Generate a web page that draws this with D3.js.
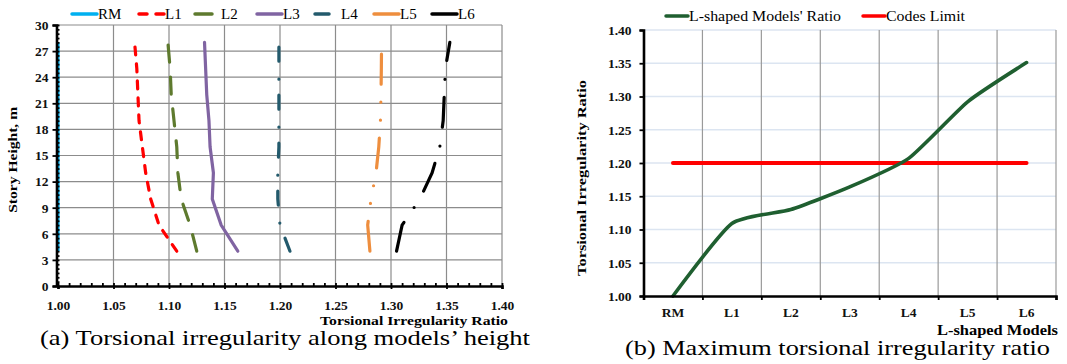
<!DOCTYPE html>
<html>
<head>
<meta charset="utf-8">
<script src="https://cdn.jsdelivr.net/npm/d3@7"></script>
<style>
  body { margin: 0; background: #fff; }
  svg { display: block; font-family: "Liberation Serif", "Times New Roman", serif; }
  .tick text { font-family: "Liberation Serif", "Times New Roman", serif; font-weight: bold; font-size: 13.5px; fill: #111; }
</style>
</head>
<body>
<svg id="chart" width="1067" height="364"></svg>
<script>
// story heights (m) for the 9 floors
const heights = [4, 7, 10, 13, 16, 19, 22, 25, 28];

// torsional irregularity ratio per floor, bottom to top
const rmRatio = [1.0, 1.0, 1.0, 1.0, 1.0, 1.0, 1.0, 1.0, 1.0];
const l1Ratio = [1.107, 1.091, 1.0835, 1.079, 1.076, 1.073, 1.072, 1.071, 1.069];
const l2Ratio = [1.125, 1.119, 1.111, 1.108, 1.107, 1.1045, 1.102, 1.101, 1.099];
const l3Ratio = [1.162, 1.147, 1.139, 1.140, 1.137, 1.136, 1.134, 1.133, 1.132];
const l4Ratio = [1.209, 1.200, 1.198, 1.198, 1.199, 1.199, 1.199, 1.199, 1.199];
const l5Ratio = [1.281, 1.279, 1.282, 1.2865, 1.289, 1.2905, 1.291, 1.2913, 1.2915];
const l6Ratio = [1.305, 1.310, 1.326, 1.337, 1.344, 1.347, 1.348, 1.349, 1.353];

const seriesNames = ['RM', 'L1', 'L2', 'L3', 'L4', 'L5', 'L6'];

// panel (b)
const models = ['RM', 'L1', 'L2', 'L3', 'L4', 'L5', 'L6'];
const maxRatio = [1.00, 1.109, 1.130, 1.164, 1.207, 1.292, 1.351];
const codesLimit = [1.20, 1.20, 1.20, 1.20, 1.20, 1.20, 1.20];

const xTicksA = [1.00, 1.05, 1.10, 1.15, 1.20, 1.25, 1.30, 1.35, 1.40];
const yTicksA = [0, 3, 6, 9, 12, 15, 18, 21, 24, 27, 30];
const yTicksB = [1.00, 1.05, 1.10, 1.15, 1.20, 1.25, 1.30, 1.35, 1.40];

const svg = d3.select('#chart');

// stretched text, the source figure is a bit wider than the font
function label(g, txt, opts) {
  const t = g.append('text')
    .attr('x', opts.x).attr('y', opts.y)
    .attr('font-size', opts.size)
    .attr('font-weight', opts.bold ? 'bold' : null)
    .attr('text-anchor', opts.anchor || 'start')
    .text(txt);
  if (opts.rotate) t.attr('transform', `rotate(-90,${opts.x},${opts.y})`);
  if (opts.len) t.attr('textLength', opts.len).attr('lengthAdjust', 'spacingAndGlyphs');
  return t;
}

// ---------- panel (a) ----------
const styles = [
  { color: '#00B0F0', dash: null, cap: 'butt' },
  { color: '#FF0000', dash: '8,9', cap: 'round' },
  { color: '#5E7A2E', dash: '17,15', cap: 'round' },
  { color: '#8064A2', dash: null, cap: 'round' },
  { color: '#235A6C', dash: '14,16,0,18', cap: 'round' },
  { color: '#EE8E3E', dash: '30,18,0,18,0,18', cap: 'round' },
  { color: '#000000', dash: '30,18,0,19', cap: 'round' },
];
const ratios = [rmRatio, l1Ratio, l2Ratio, l3Ratio, l4Ratio, l5Ratio, l6Ratio];

const xa = d3.scaleLinear().domain([1.0, 1.4]).range([58, 502]);
const ya = d3.scaleLinear().domain([0, 30]).range([286, 25]);

const ga = svg.append('g');

// grid
ga.append('g').selectAll('line').data(yTicksA.slice(1)).enter().append('line')
  .attr('x1', xa(1.0)).attr('x2', xa(1.4))
  .attr('y1', d => ya(d)).attr('y2', d => ya(d))
  .attr('stroke', '#8c8c8c').attr('stroke-width', 1.2);
ga.append('g').selectAll('line').data(xTicksA.slice(1)).enter().append('line')
  .attr('x1', d => xa(d)).attr('x2', d => xa(d))
  .attr('y1', ya(0)).attr('y2', ya(30))
  .attr('stroke', '#8c8c8c').attr('stroke-width', 1.2);

// series
const lineA = d3.line().x(d => xa(d[0])).y(d => ya(d[1]));
ratios.forEach((r, i) => {
  const pts = heights.map((h, j) => [r[j], h]);
  ga.append('path')
    .datum(pts)
    .attr('d', lineA)
    .attr('fill', 'none')
    .attr('stroke', styles[i].color)
    .attr('stroke-width', 3.2)
    .attr('stroke-linecap', styles[i].cap)
    .attr('stroke-dasharray', styles[i].dash);
});

// axes
ga.append('g')
  .attr('transform', `translate(${xa(1.0) - 1.5},0)`)
  .call(d3.axisLeft(ya).tickValues(yTicksA).tickSize(4).tickPadding(4));
ga.append('g')
  .attr('transform', `translate(${xa(1.0) - 1.5},0)`)
  .call(d3.axisRight(ya).tickValues(d3.range(0, 30.01, 0.5)).tickSize(3).tickFormat(''))
  .call(g => g.select('.domain').remove());
ga.append('g')
  .attr('transform', `translate(0,${ya(0)})`)
  .call(d3.axisBottom(xa).tickValues(xTicksA).tickFormat(d3.format('.2f')).tickSize(3).tickPadding(11));
ga.append('g')
  .attr('transform', `translate(0,${ya(0)})`)
  .call(d3.axisTop(xa).tickValues(d3.range(1.0, 1.4001, 0.01)).tickSize(3).tickFormat(''))
  .call(g => g.select('.domain').remove());
ga.selectAll('.domain').attr('stroke', '#000').attr('stroke-width', 2.6);
ga.selectAll('.tick line').attr('stroke', '#000').attr('stroke-width', 1.8);

label(ga, 'Story Height, m', { x: 17, y: ya(14.5), size: 13.5, bold: true, anchor: 'middle', rotate: true, len: 106 });
label(ga, 'Torsional Irregularity Ratio', { x: 508, y: 325, size: 12.5, bold: true, anchor: 'end', len: 188 });

// legend
const legStart = [70, 137, 193, 255, 313, 372, 430];
seriesNames.forEach((n, i) => {
  const lg = ga.append('g').attr('transform', `translate(${legStart[i]},14)`);
  lg.append('line').attr('x1', 2).attr('x2', 27).attr('y1', 0).attr('y2', 0)
    .attr('stroke', styles[i].color).attr('stroke-width', 3.5)
    .attr('stroke-linecap', 'round')
    .attr('stroke-dasharray', styles[i].dash);
  lg.append('text').attr('x', 28).attr('y', 5).attr('font-size', 15).text(n);
});

label(svg, '(a) Torsional irregularity along models\u2019 height', { x: 40, y: 345, size: 21, len: 490 });

// ---------- panel (b) ----------
const xb = d3.scaleBand().domain(models).range([643.5, 1056]);
const yb = d3.scaleLinear().domain([1.0, 1.4]).range([296, 30]);
const gb = svg.append('g');

gb.append('g').selectAll('line').data(yTicksB.slice(1)).enter().append('line')
  .attr('x1', xb.range()[0]).attr('x2', xb.range()[1])
  .attr('y1', d => yb(d)).attr('y2', d => yb(d))
  .attr('stroke', '#dce5f1').attr('stroke-width', 1.4);
gb.append('g').selectAll('line').data(models).enter().append('line')
  .attr('x1', d => xb(d) + xb.bandwidth()).attr('x2', d => xb(d) + xb.bandwidth())
  .attr('y1', yb(1.0)).attr('y2', yb(1.4))
  .attr('stroke', '#9a9a9a').attr('stroke-width', 1.2);

const lineB = d3.line()
  .x((d, i) => xb(models[i]) + xb.bandwidth() / 2)
  .y(d => yb(d));

gb.append('path').datum(codesLimit)
  .attr('d', lineB)
  .attr('fill', 'none').attr('stroke', '#FF0000').attr('stroke-width', 4)
  .attr('stroke-linecap', 'round');
gb.append('path').datum(maxRatio)
  .attr('d', lineB.curve(d3.curveCardinal.tension(0.45)))
  .attr('fill', 'none').attr('stroke', '#1F5F30').attr('stroke-width', 3.6)
  .attr('stroke-linecap', 'round');

gb.append('g')
  .attr('transform', `translate(${xb.range()[0]},0)`)
  .call(d3.axisLeft(yb).tickValues(yTicksB).tickFormat(d3.format('.2f')).tickSize(4).tickPadding(8));
const xEdge = d3.scaleLinear().domain([0, models.length]).range(xb.range());
gb.append('g')
  .attr('transform', `translate(0,${yb(1.0)})`)
  .call(d3.axisBottom(xEdge).tickValues(d3.range(0, models.length + 1)).tickSize(4).tickFormat(''));
gb.append('g')
  .attr('transform', `translate(0,${yb(1.0)})`)
  .call(d3.axisBottom(xb).tickSize(0).tickPadding(11))
  .call(g => g.select('.domain').remove());
gb.selectAll('.domain').attr('stroke', '#000').attr('stroke-width', 2.6);
gb.selectAll('.tick line').attr('stroke', '#000').attr('stroke-width', 1.8);

label(gb, 'Torsional Irregularity Ratio', { x: 586, y: 178, size: 13, bold: true, anchor: 'middle', rotate: true, len: 196 });
label(gb, 'L-shaped Models', { x: 1058, y: 335, size: 14.5, bold: true, anchor: 'end', len: 121 });

const legB = [
  { name: "L-shaped Models' Ratio", color: '#1F5F30', x: 664, len: 152 },
  { name: 'Codes Limit', color: '#FF0000', x: 861, len: 79 },
];
legB.forEach(l => {
  const lg = gb.append('g').attr('transform', `translate(${l.x},16)`);
  lg.append('line').attr('x1', 2).attr('x2', 24).attr('y1', 0).attr('y2', 0)
    .attr('stroke', l.color).attr('stroke-width', 3.5).attr('stroke-linecap', 'round');
  label(lg, l.name, { x: 25, y: 5, size: 15, len: l.len });
});

label(svg, '(b) Maximum torsional irregularity ratio', { x: 625, y: 355, size: 21, len: 425 });
</script>
</body>
</html>
